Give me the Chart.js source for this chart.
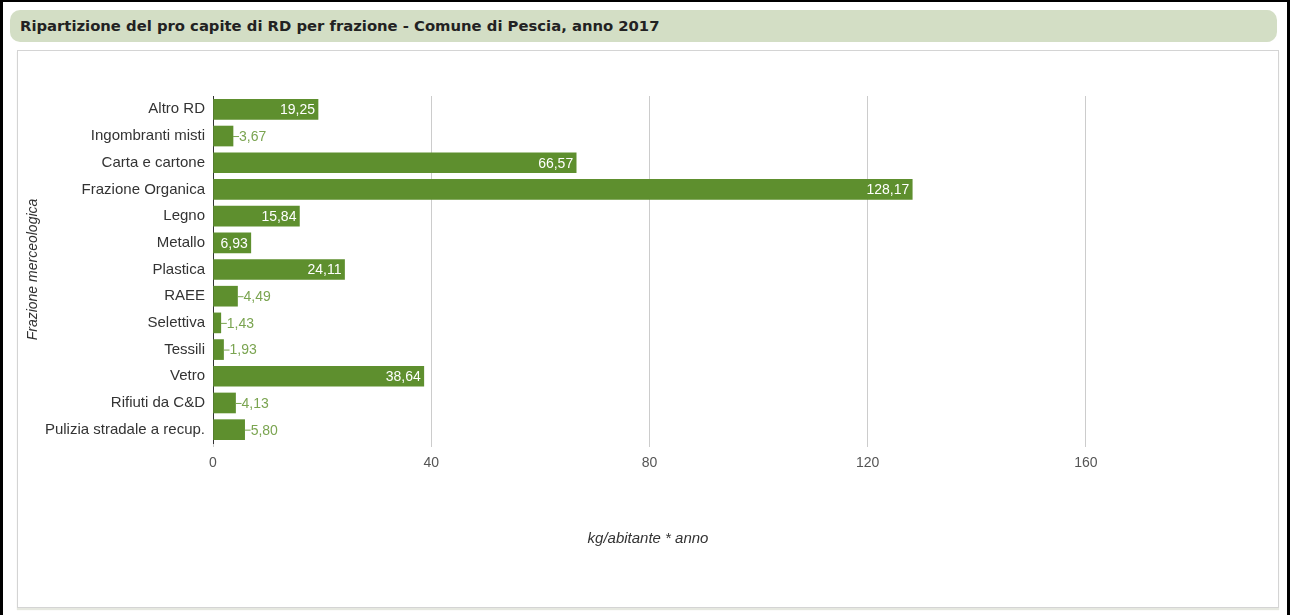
<!DOCTYPE html>
<html>
<head>
<meta charset="utf-8">
<script src="https://cdn.jsdelivr.net/npm/chart.js@4"></script>
<style>
  html, body { margin: 0; padding: 0; background: #fff; }
  #frame {
    position: absolute; left: 0; top: 0; width: 1290px; height: 615px;
    border-left: 3px solid #000; border-top: 2px solid #000; border-right: 3px solid #000;
    box-sizing: border-box;
  }
  #title {
    position: absolute; left: 10px; top: 10px; width: 1267px; height: 32px;
    background: #d3dec5; border-radius: 10px;
    font: bold 14.8px "DejaVu Sans", sans-serif; color: #222;
    line-height: 32px; padding-left: 10px; box-sizing: border-box;
  }
  #panel {
    position: absolute; left: 17px; top: 50px; width: 1262px; height: 558px;
    border: 1px solid #d4d4d4; box-shadow: 0 2px 1px #e6e8e0; box-sizing: border-box;
  }
  #chart { position: absolute; left: 0; top: 0; }
</style>
</head>
<body>
<div id="frame"></div>
<div id="title">Ripartizione del pro capite di RD per frazione - Comune di Pescia, anno 2017</div>
<div id="panel"><canvas id="chart" width="1260" height="556"></canvas></div>
<script>
const categories = [
  'Altro RD', 'Ingombranti misti', 'Carta e cartone', 'Frazione Organica', 'Legno',
  'Metallo', 'Plastica', 'RAEE', 'Selettiva', 'Tessili', 'Vetro', 'Rifiuti da C&D',
  'Pulizia stradale a recup.'
];
const values = [19.25, 3.67, 66.57, 128.17, 15.84, 6.93, 24.11, 4.49, 1.43, 1.93, 38.64, 4.13, 5.80];
const xTicks = [0, 40, 80, 120, 160];
const xTitle = 'kg/abitante * anno';

const barColor = '#5e8f2e';
const labelGreen = '#7aa450';
const FONT = '"Liberation Sans", Arial, sans-serif';
const fmt = v => v.toFixed(2).replace('.', ',');

// value labels: white inside the bar, or green outside with a small connector
const barLabels = {
  id: 'barLabels',
  afterDatasetsDraw(chart) {
    const ctx = chart.ctx;
    const meta = chart.getDatasetMeta(0);
    ctx.save();
    ctx.font = '14px ' + FONT;
    ctx.textBaseline = 'middle';
    meta.data.forEach((bar, i) => {
      const txt = fmt(values[i]);
      const w = ctx.measureText(txt).width;
      const barW = bar.x - bar.base;
      if (w + 6 < barW) {
        ctx.fillStyle = '#fff';
        ctx.textAlign = 'right';
        ctx.fillText(txt, bar.x - 3, bar.y + 1);
      } else {
        ctx.strokeStyle = labelGreen;
        ctx.lineWidth = 1;
        ctx.beginPath();
        ctx.moveTo(bar.x, bar.y + 0.5);
        ctx.lineTo(bar.x + 6, bar.y + 0.5);
        ctx.stroke();
        ctx.fillStyle = labelGreen;
        ctx.textAlign = 'left';
        ctx.fillText(txt, bar.x + 6, bar.y + 1);
      }
    });
    ctx.restore();
  }
};

// x axis title centred on the whole panel, not on the plot area
const xAxisTitle = {
  id: 'xAxisTitle',
  afterDraw(chart) {
    const ctx = chart.ctx;
    ctx.save();
    ctx.font = 'italic 15px ' + FONT;
    ctx.fillStyle = '#333';
    ctx.textAlign = 'center';
    ctx.textBaseline = 'middle';
    ctx.fillText(xTitle, chart.width / 2, chart.scales.x.bottom - 14);
    ctx.restore();
  }
};

new Chart(document.getElementById('chart').getContext('2d'), {
  type: 'bar',
  data: {
    labels: categories,
    datasets: [{
      data: values,
      backgroundColor: barColor,
      barThickness: 20
    }]
  },
  options: {
    indexAxis: 'y',
    responsive: false,
    animation: false,
    layout: { padding: { top: 45, right: 83, bottom: 54, left: 0 } },
    plugins: { legend: { display: false }, tooltip: { enabled: false } },
    scales: {
      x: {
        min: 0, max: 180,
        afterBuildTicks: s => { s.ticks = xTicks.map(v => ({ value: v })); },
        afterFit: s => { s.height = 110; },
        grid: { color: '#cccccc', tickLength: 4 },
        border: { display: false },
        ticks: { color: '#555', padding: 8, font: { family: FONT, size: 14 } }
      },
      y: {
        afterFit: s => { s.width = 195; },
        grid: { display: false, tickLength: 0 },
        border: { display: true, color: '#333', width: 1 },
        ticks: { color: '#333', padding: 8, autoSkip: false, font: { family: FONT, size: 15 } },
        title: {
          display: true, text: 'Frazione merceologica', color: '#333', padding: { top: 7, bottom: 0 },
          font: { family: FONT, size: 14, style: 'italic' }
        }
      }
    }
  },
  plugins: [barLabels, xAxisTitle]
});
</script>
</body>
</html>
